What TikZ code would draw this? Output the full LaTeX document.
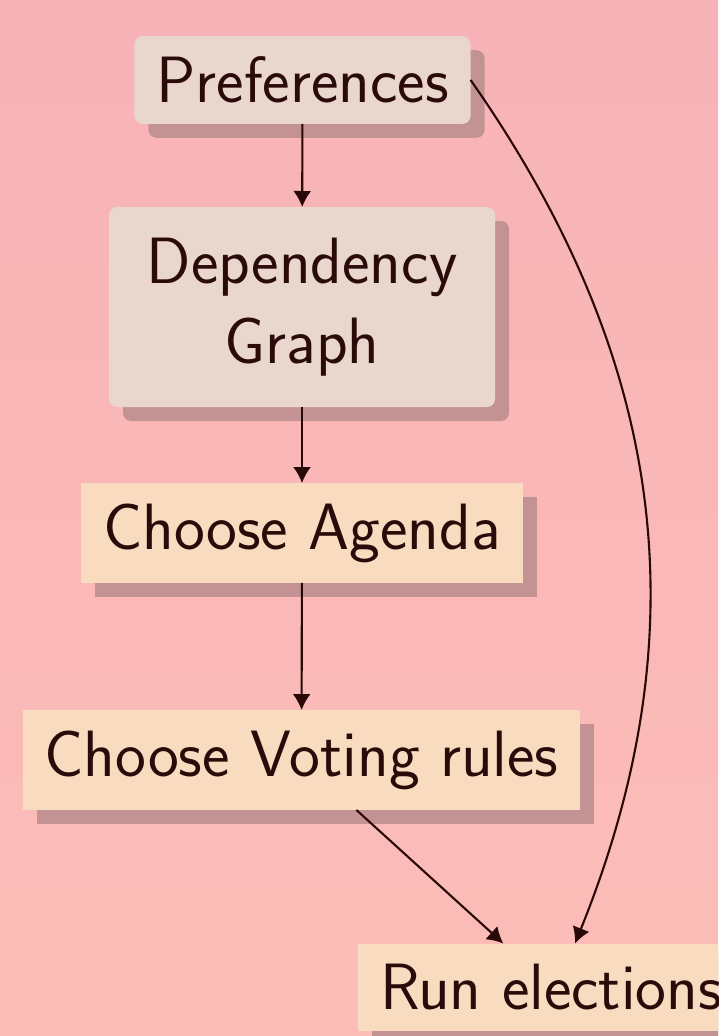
\documentclass[tikz,border=0pt]{standalone}
\usepackage{fontspec}
\usetikzlibrary{arrows.meta,shadows}
\definecolor{bgtop}{HTML}{F7B3B7}
\definecolor{bgbot}{HTML}{FCBDB8}
\definecolor{greyfill}{HTML}{E9D7CD}
\definecolor{peachfill}{HTML}{F9DBC0}
\definecolor{shadowc}{HTML}{C39393}
\definecolor{txt}{HTML}{2B0A0A}
\definecolor{linec}{HTML}{2A0808}
\begin{document}
\begin{tikzpicture}[x=1pt,y=1pt,
  box/.style={font=\sffamily\fontsize{65.5}{80}\selectfont, text=txt,
    inner xsep=22pt, inner ysep=20.5pt, outer sep=0pt},
  greybox/.style={box, fill=greyfill, rounded corners=8pt,
    drop shadow={shadow xshift=14pt, shadow yshift=-14pt, fill=shadowc, opacity=1}},
  peachbox/.style={box, fill=peachfill,
    drop shadow={shadow xshift=14pt, shadow yshift=-14pt, fill=shadowc, opacity=1}},
  arr/.style={draw=linec, line width=2.1pt, -{Latex[length=16pt,width=18pt]}}]
\clip (0,0) rectangle (718,-1036);
\useasboundingbox (0,0) rectangle (718,-1036);
\shade[top color=bgtop, bottom color=bgbot] (0,0) rectangle (718,-1036);

\node[greybox] (pref) at (302.5,-80) {Preferences};
\node[greybox, align=center, minimum width=386pt, minimum height=200pt, inner ysep=0pt] (dep) at (302,-307) {Dependency\\Graph};
\node[peachbox] (agenda) at (302,-533) {Choose Agenda};
\node[peachbox] (voting) at (301.5,-760) {Choose Voting rules};
\node[peachbox] (run) at (551,-987) {Run elections};
\coordinate (runin) at ([xshift=24pt]run.north);

\draw[arr] (pref) -- (dep);
\draw[arr] (dep) -- (agenda);
\draw[arr] (agenda) -- (voting);
\draw[arr] (voting) -- (run);
\draw[arr] (pref.east) to[out=-55,in=68,looseness=1.0] (runin);
\end{tikzpicture}
\end{document}
